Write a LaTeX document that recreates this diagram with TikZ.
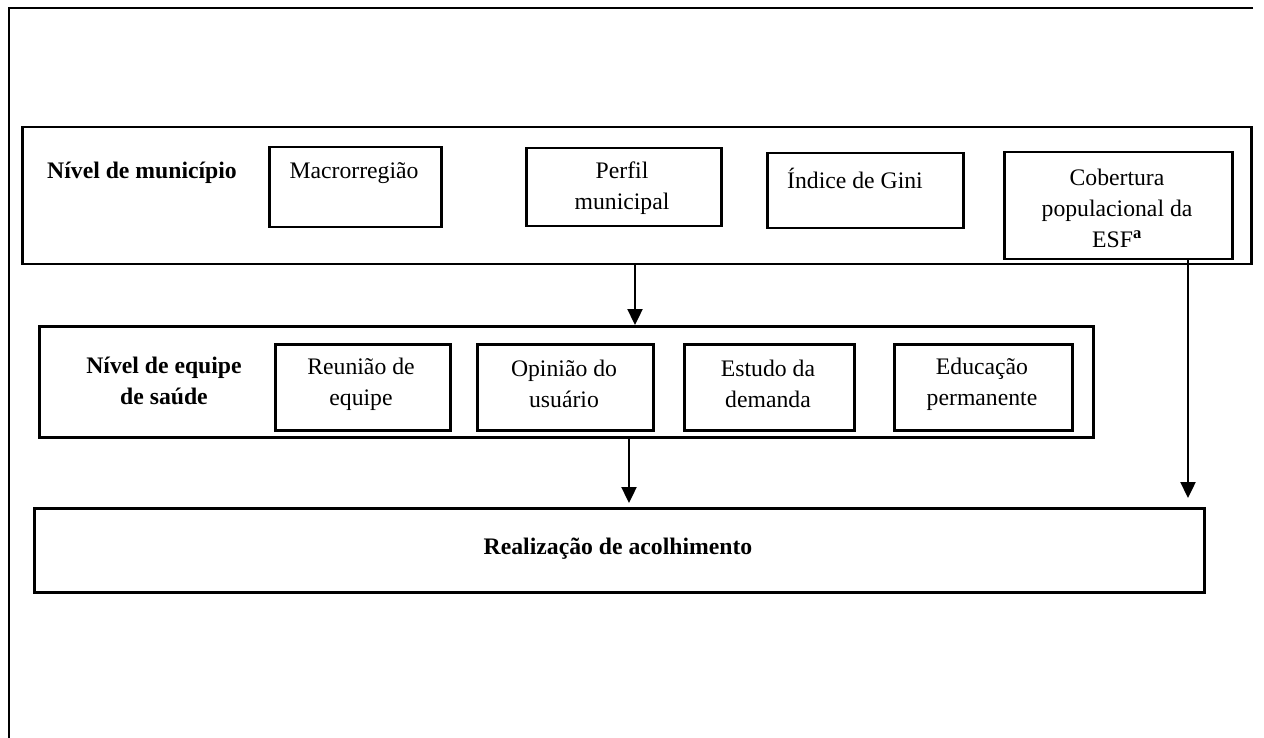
\documentclass[tikz,border=0pt]{standalone}
\usepackage{fontspec}
\setmainfont{Liberation Serif}
\usetikzlibrary{arrows.meta}
\begin{document}
\begin{tikzpicture}[x=1pt,y=-1pt,
  every node/.style={font=\fontsize{23.7pt}{31pt}\selectfont, inner sep=0pt},
  box/.style={draw, line width=2.5pt, anchor=north west, minimum width=#1},
  txt/.style={align=center},
  arr/.style={line width=2.4pt, -{Triangle[width=15pt,length=16pt]}}]
\useasboundingbox (0,0) rectangle (1264,738);
% outer frame (top and left)
\draw[line width=2.6pt] (1253,8) -- (9,8) -- (9,740);
% municipality level
\node[box=1229pt, minimum height=137pt] (mun) at (21,126) {};
\node[txt, font=\fontsize{23.7pt}{31pt}\selectfont\bfseries, anchor=west] (munl) at (47,173) {Nível de município};
\node[box=172pt, minimum height=80pt] (mac) at (268,146) {};
\node[txt] (mact) at (354,173) {Macrorregião};
\node[box=195pt, minimum height=78pt] (per) at (525,147) {};
\node[txt] (pert) at (622,188) {Perfil\\municipal};
\node[box=196pt, minimum height=75pt] (gin) at (766,152) {};
\node[txt, anchor=west] (gint) at (787,178) {Índice de Gini};
\node[box=228pt, minimum height=107pt] (cob) at (1003,151) {};
\node[txt] (cobt) at (1117,208) {Cobertura\\populacional da\\ESF\textsuperscript{\bfseries a}};
% team level
\node[box=1054pt, minimum height=111pt] (eq) at (38,325) {};
\node[txt, font=\fontsize{23.7pt}{31pt}\selectfont\bfseries] (eql) at (164,381) {Nível de equipe\\de saúde};
\node[box=175pt, minimum height=86pt] (reu) at (274,343) {};
\node[txt] (reut) at (361,384) {Reunião de\\equipe};
\node[box=176pt, minimum height=86pt] (opi) at (476,343) {};
\node[txt] (opit) at (564,384) {Opinião do\\usuário};
\node[box=170pt, minimum height=86pt] (est) at (683,343) {};
\node[txt] (estt) at (768,384) {Estudo da\\demanda};
\node[box=178pt, minimum height=86pt] (edu) at (893,343) {};
\node[txt] (edut) at (982,384) {Educação\\permanente};
% outcome
\node[box=1170pt, minimum height=84pt] (rea) at (33,507) {};
\node[txt, font=\fontsize{23.7pt}{31pt}\selectfont\bfseries] (reat) at (618,549) {Realização de acolhimento};
% connectors
\coordinate (x1) at (635,0);
\coordinate (x2) at (629,0);
\coordinate (x3) at (1188,0);
\coordinate (t3) at (1188,498);
\coordinate (t2) at (629,503);
\draw[arr] (mun.south -| x1) -- (eq.north -| x1);
\draw[arr] (eq.south -| x2) -- (t2);
\draw[arr] (cob.south -| x3) -- (t3);
\end{tikzpicture}
\end{document}
